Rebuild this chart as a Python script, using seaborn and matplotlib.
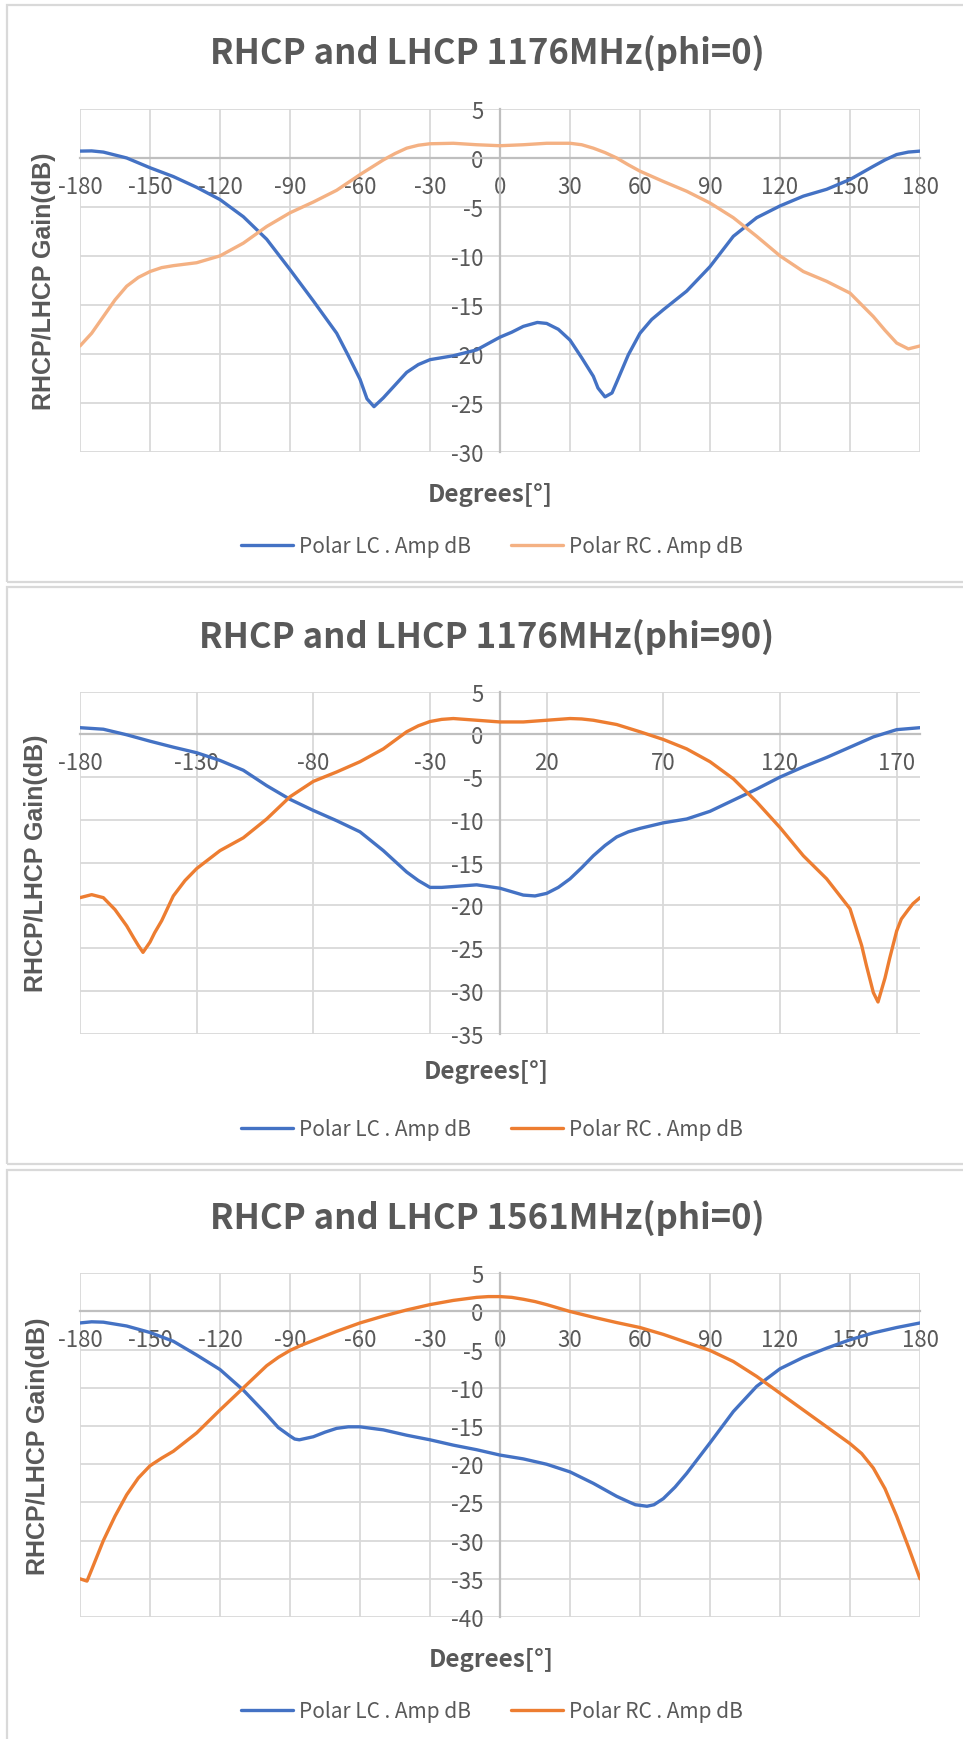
import numpy as np
import pandas as pd
import matplotlib
matplotlib.use("Agg")
import matplotlib.pyplot as plt
import seaborn as sns
from matplotlib.patches import Rectangle

# ---------------- data ----------------
p1_titles = "RHCP and LHCP 1176MHz(phi=0)"
p2_titles = "RHCP and LHCP 1176MHz(phi=90)"
p3_titles = "RHCP and LHCP 1561MHz(phi=0)"

series_names = ["Polar LC . Amp dB", "Polar RC . Amp dB"]

# Panel 1 : 1176 MHz, phi = 0
p1_lc_deg = [-180, -175, -170, -160, -150, -140, -130, -120, -110, -100, -90, -80, -70, -65, -60, -57, -54,
             -50, -45, -40, -35, -30, -20, -10, 0, 5, 10, 16, 20, 25, 30, 35, 40, 42, 45, 48, 50, 55, 60, 65,
             70, 80, 90, 100, 110, 120, 130, 140, 150, 160, 165, 170, 175, 180]
p1_lc_val = [0.7, 0.72, 0.6, 0.0, -1.0, -1.9, -3.0, -4.25, -6.0, -8.3, -11.4, -14.6, -17.9, -20.2, -22.6, -24.6, -25.4,
             -24.5, -23.2, -21.9, -21.1, -20.6, -20.2, -19.6, -18.3, -17.8, -17.2, -16.8, -16.9, -17.5, -18.6, -20.4, -22.3, -23.5, -24.4, -24.0, -22.9, -20.1, -17.9, -16.5,
             -15.5, -13.6, -11.1, -8.0, -6.1, -4.9, -3.9, -3.2, -2.2, -0.85, -0.2, 0.35, 0.6, 0.7]
p1_rc_deg = [-180, -175, -170, -165, -160, -155, -150, -145, -140, -130, -120, -110, -100, -90, -80, -70, -60,
             -55, -50, -45, -40, -35, -30, -20, -10, 0, 10, 20, 30, 35, 40, 45, 50, 55, 60, 70, 80, 90, 100,
             110, 120, 130, 140, 150, 160, 165, 170, 175, 180]
p1_rc_val = [-19.2, -17.9, -16.2, -14.5, -13.1, -12.2, -11.6, -11.2, -11.0, -10.7, -10.0, -8.7, -7.0, -5.6, -4.5, -3.3, -1.7,
             -0.95, -0.2, 0.45, 1.0, 1.3, 1.45, 1.5, 1.35, 1.25, 1.35, 1.5, 1.5, 1.35, 1.0, 0.55, 0.0, -0.7, -1.35, -2.4, -3.4, -4.6, -6.1,
             -8.0, -10.0, -11.6, -12.6, -13.8, -16.2, -17.6, -18.9, -19.5, -19.2]

# Panel 2 : 1176 MHz, phi = 90
p2_lc_deg = [-180, -170, -160, -150, -140, -130, -120, -110, -100, -90, -80, -70, -60, -50, -40, -35,
             -30, -25, -20, -10, 0, 5, 10, 15, 20, 25, 30, 35, 40, 45, 50, 55, 60, 70, 80, 90, 100, 110,
             120, 130, 140, 150, 160, 170, 180]
p2_lc_val = [0.78, 0.6, -0.05, -0.8, -1.5, -2.15, -3.05, -4.2, -6.0, -7.6, -8.9, -10.1, -11.4, -13.6, -16.1, -17.1,
             -17.9, -17.9, -17.8, -17.6, -18.0, -18.4, -18.8, -18.9, -18.6, -17.9, -16.9, -15.6, -14.2, -13.0, -12.0, -11.4, -11.0, -10.35, -9.9, -9.0, -7.7, -6.4,
             -5.0, -3.8, -2.7, -1.5, -0.3, 0.55, 0.78]
p2_rc_deg = [-180, -175, -170, -165, -160, -157, -155, -153, -150, -148, -145, -140, -135, -130, -120, -110,
             -100, -90, -80, -70, -60, -50, -45, -40, -35, -30, -25, -20, -10, 0, 10, 20, 25, 30, 35, 40, 50,
             60, 70, 80, 90, 100, 110, 120, 130, 140, 150, 155, 157, 160, 162, 165, 167, 170, 172, 175, 177, 180]
p2_rc_val = [-19.1, -18.75, -19.1, -20.5, -22.4, -23.8, -24.7, -25.5, -24.3, -23.2, -21.8, -18.9, -17.1, -15.7, -13.6, -12.1,
             -9.9, -7.3, -5.5, -4.4, -3.2, -1.7, -0.7, 0.3, 1.0, 1.5, 1.75, 1.85, 1.65, 1.45, 1.45, 1.65, 1.75, 1.85, 1.8, 1.65, 1.15,
             0.3, -0.6, -1.7, -3.2, -5.2, -7.9, -10.9, -14.2, -16.9, -20.4, -24.7, -27.0, -30.2, -31.3, -28.5, -26.2, -23.0, -21.6, -20.5, -19.8, -19.1]

# Panel 3 : 1561 MHz, phi = 0
p3_lc_deg = [-180, -175, -170, -160, -150, -140, -130, -120, -110, -100, -95, -90, -88, -86, -83, -80, -75,
             -70, -65, -60, -50, -40, -30, -20, -10, 0, 10, 20, 30, 40, 50, 55, 58, 63, 66, 70, 75, 80, 85,
             90, 100, 110, 120, 130, 140, 150, 160, 170, 180]
p3_lc_val = [-1.5, -1.35, -1.4, -1.9, -2.75, -3.9, -5.7, -7.6, -10.3, -13.5, -15.2, -16.3, -16.7, -16.8, -16.6, -16.4, -15.8,
             -15.3, -15.1, -15.1, -15.5, -16.2, -16.8, -17.5, -18.1, -18.8, -19.3, -20.0, -21.0, -22.5, -24.2, -24.9, -25.3, -25.5, -25.3, -24.5, -23.0, -21.2, -19.2,
             -17.2, -13.1, -9.8, -7.5, -6.0, -4.8, -3.7, -2.8, -2.1, -1.5]
p3_rc_deg = [-180, -177, -175, -170, -165, -160, -155, -150, -145, -140, -130, -120, -110, -100, -95, -90,
             -85, -80, -70, -60, -50, -40, -30, -20, -10, -5, 0, 5, 10, 15, 20, 25, 30, 40, 50, 60, 70, 80,
             90, 100, 110, 120, 130, 140, 150, 155, 160, 165, 170, 175, 180]
p3_rc_val = [-35.0, -35.3, -33.8, -30.0, -26.8, -24.0, -21.8, -20.2, -19.2, -18.3, -15.9, -12.9, -10.0, -7.1, -6.0, -5.1,
             -4.4, -3.8, -2.6, -1.5, -0.6, 0.2, 0.9, 1.45, 1.85, 1.95, 1.95, 1.85, 1.6, 1.3, 0.9, 0.45, 0.0, -0.75, -1.45, -2.1, -3.0, -4.05,
             -5.1, -6.55, -8.5, -10.7, -12.9, -15.1, -17.3, -18.6, -20.5, -23.2, -26.8, -30.8, -35.0]

p1_xticks = list(range(-180, 181, 30))
p2_xticks = list(range(-180, 171, 50))
p3_xticks = list(range(-180, 181, 30))
p1_yticks = list(range(-30, 6, 5))
p2_yticks = list(range(-35, 6, 5))
p3_yticks = list(range(-40, 6, 5))

# ---------------- style ----------------
sns.set_style("white")
plt.rcParams['font.family'] = ['Noto Sans CJK SC', 'DejaVu Sans']
plt.rcParams['axes.unicode_minus'] = False

W, H = 963, 1740
fig = plt.figure(figsize=(W / 100, H / 100), dpi=100)

TXT = '#595959'
GRID = '#D9D9D9'
AXIS = '#BFBFBF'
BLUE = '#4472C4'

panels = [
    dict(title=p1_titles, lc=(p1_lc_deg, p1_lc_val), rc=(p1_rc_deg, p1_rc_val), rc_color='#F4B183',
         xt=p1_xticks, yt=p1_yticks, top=110, bot=452.7, box=(6, 583), title_y=53, ylab_x=44,
         xlab=(490, 495), leg=(492, 547)),
    dict(title=p2_titles, lc=(p2_lc_deg, p2_lc_val), rc=(p2_rc_deg, p2_rc_val), rc_color='#ED7D31',
         xt=p2_xticks, yt=p2_yticks, top=692.6, bot=1034.6, box=(588, 1165), title_y=637, ylab_x=36,
         xlab=(486, 1072), leg=(492, 1130)),
    dict(title=p3_titles, lc=(p3_lc_deg, p3_lc_val), rc=(p3_rc_deg, p3_rc_val), rc_color='#ED7D31',
         xt=p3_xticks, yt=p3_yticks, top=1274.3, bot=1618, box=(1171, 1760), title_y=1218, ylab_x=38,
         xlab=(491, 1660), leg=(492, 1712)),
]

for p in panels:
    # chart-area frame
    t, b = p['box']
    fig.patches.append(Rectangle((6.5 / W, 1 - b / H), 1.2, (b - t) / H, transform=fig.transFigure,
                                 fill=False, edgecolor=GRID, linewidth=1.6, zorder=0))

    ax = fig.add_axes([80 / W, 1 - p['bot'] / H, 840 / W, (p['bot'] - p['top']) / H])
    ax.set_facecolor('none')

    df_lc = pd.DataFrame({'deg': p['lc'][0], 'val': p['lc'][1]})
    df_rc = pd.DataFrame({'deg': p['rc'][0], 'val': p['rc'][1]})
    sns.lineplot(data=df_lc, x='deg', y='val', ax=ax, color=BLUE, linewidth=2.4,
                 label=series_names[0], estimator=None, zorder=4)
    sns.lineplot(data=df_rc, x='deg', y='val', ax=ax, color=p['rc_color'], linewidth=2.4,
                 label=series_names[1], estimator=None, zorder=4)
    for ln in ax.get_lines():
        ln.set_solid_joinstyle('round')
        ln.set_solid_capstyle('round')

    ax.set_xlim(-180, 180)
    ax.set_ylim(min(p['yt']), 5)
    ax.set_xticks(p['xt'])
    ax.set_yticks(p['yt'])
    ax.grid(True, color=GRID, linewidth=1.3)
    ax.set_axisbelow(True)
    for s in ['top', 'right']:
        ax.spines[s].set_visible(False)
    ax.spines['left'].set_position(('data', 0))
    ax.spines['bottom'].set_position(('data', 0))
    for s in ['left', 'bottom']:
        ax.spines[s].set_color(AXIS)
        ax.spines[s].set_linewidth(1.6)
        ax.spines[s].set_zorder(2)
    ax.tick_params(axis='both', length=0, labelsize=16, colors=TXT)
    ax.tick_params(axis='x', pad=12)
    ax.tick_params(axis='y', pad=12)
    for lab in ax.get_xticklabels() + ax.get_yticklabels():
        lab.set_fontweight('light')
    ax.set_xlabel('')
    ax.set_ylabel('')

    handles, labels = ax.get_legend_handles_labels()
    ax.legend(handles, labels, loc='center', bbox_to_anchor=(p['leg'][0] / W, 1 - p['leg'][1] / H),
              bbox_transform=fig.transFigure, ncol=2, frameon=False, fontsize=15,
              handlelength=2.5, handletextpad=0.3, columnspacing=1.9, labelcolor=TXT)

    fig.text(487 / W, 1 - p['title_y'] / H, p['title'], ha='center', va='center',
             fontsize=25, fontweight='semibold', color=TXT)
    fig.text(p['xlab'][0] / W, 1 - p['xlab'][1] / H, 'Degrees[°]', ha='center', va='center',
             fontsize=17.5, fontweight='bold', color=TXT)
    fig.text(p['ylab_x'] / W, 1 - ((p['top'] + p['bot']) / 2) / H, 'RHCP/LHCP Gain(dB)',
             ha='center', va='center', rotation=90, fontsize=18, fontweight='bold', color=TXT,
             family=['Liberation Sans', 'DejaVu Sans'])

fig.savefig('out.png', dpi=100)
